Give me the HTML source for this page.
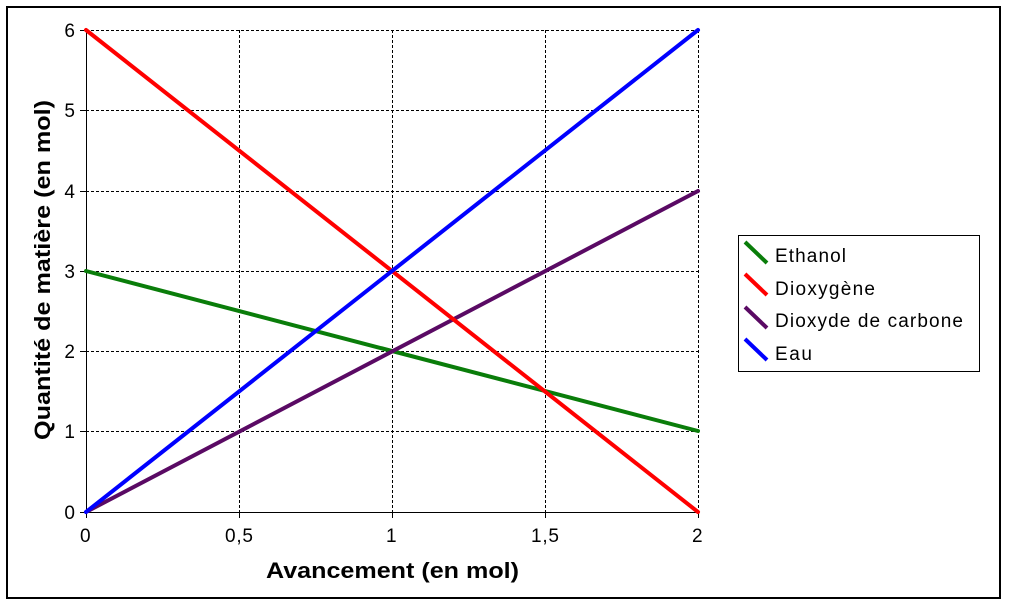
<!DOCTYPE html>
<html><head><meta charset="utf-8"><style>body{margin:0;background:#fff}</style></head><body>
<svg width="1011" height="608" xmlns="http://www.w3.org/2000/svg" font-family="Liberation Sans, Arial, sans-serif">
<rect x="7" y="7" width="993" height="591" fill="#fff" stroke="#000" stroke-width="2"/>
<g stroke="#000" stroke-width="1" stroke-dasharray="3,2">
<line x1="86" y1="30.5" x2="698" y2="30.5"/><line x1="86" y1="110.5" x2="698" y2="110.5"/>
<line x1="86" y1="191.5" x2="698" y2="191.5"/><line x1="86" y1="271.5" x2="698" y2="271.5"/>
<line x1="86" y1="351.5" x2="698" y2="351.5"/><line x1="86" y1="431.5" x2="698" y2="431.5"/>
<line x1="239.5" y1="30" x2="239.5" y2="512"/><line x1="392.5" y1="30" x2="392.5" y2="512"/>
<line x1="545.5" y1="30" x2="545.5" y2="512"/><line x1="698.5" y1="30" x2="698.5" y2="512"/>
</g>
<g stroke="#000" stroke-width="1">
<line x1="86.5" y1="30" x2="86.5" y2="518"/><line x1="80" y1="512.5" x2="698" y2="512.5"/>
<line x1="80" y1="30.5" x2="86" y2="30.5"/><line x1="80" y1="110.5" x2="86" y2="110.5"/><line x1="80" y1="191.5" x2="86" y2="191.5"/><line x1="80" y1="271.5" x2="86" y2="271.5"/><line x1="80" y1="351.5" x2="86" y2="351.5"/><line x1="80" y1="431.5" x2="86" y2="431.5"/>
<line x1="239.5" y1="512" x2="239.5" y2="518"/><line x1="392.5" y1="512" x2="392.5" y2="518"/><line x1="545.5" y1="512" x2="545.5" y2="518"/><line x1="698.5" y1="512" x2="698.5" y2="518"/>
</g>
<g font-size="19" fill="#000" text-anchor="end">
<text x="75" y="37">6</text><text x="75" y="117">5</text><text x="75" y="198">4</text><text x="75" y="278">3</text><text x="75" y="358">2</text><text x="75" y="438">1</text><text x="75" y="519">0</text>
</g>
<g font-size="19" fill="#000">
<text x="80" y="542">0</text><text x="225" y="542" textLength="28">0,5</text><text x="386" y="542">1</text><text x="531" y="542" textLength="28">1,5</text><text x="692" y="542">2</text>
</g>
<text x="266" y="578" font-size="22" font-weight="bold" textLength="253" lengthAdjust="spacingAndGlyphs">Avancement (en mol)</text>
<text transform="translate(50,440) rotate(-90)" font-size="22" font-weight="bold" textLength="340" lengthAdjust="spacingAndGlyphs">Quantité de matière (en mol)</text>
<g stroke-width="4" fill="none" stroke-linecap="round">
<line x1="86" y1="271" x2="698" y2="431" stroke="#0a7d0a"/>
<line x1="86" y1="512" x2="698" y2="191" stroke="#5a0a64"/>
<line x1="86" y1="30" x2="698" y2="512" stroke="#ff0000"/>
<line x1="86" y1="512" x2="698" y2="30" stroke="#0000ff"/>
</g>
<rect x="738.5" y="235.5" width="241" height="136" fill="#fff" stroke="#000" stroke-width="1"/>
<g stroke-width="4">
<line x1="745" y1="242" x2="767" y2="263" stroke="#0a7d0a"/>
<line x1="745" y1="274" x2="767" y2="295" stroke="#ff0000"/>
<line x1="745" y1="307" x2="767" y2="328" stroke="#5a0a64"/>
<line x1="745" y1="339" x2="767" y2="360" stroke="#0000ff"/>
</g>
<g font-size="19" fill="#000" lengthAdjust="spacingAndGlyphs">
<text x="775" y="262" textLength="71">Ethanol</text><text x="775" y="295" textLength="100">Dioxygène</text><text x="775" y="327" textLength="188">Dioxyde de carbone</text><text x="775" y="360" textLength="37">Eau</text>
</g>
</svg>
</body></html>
